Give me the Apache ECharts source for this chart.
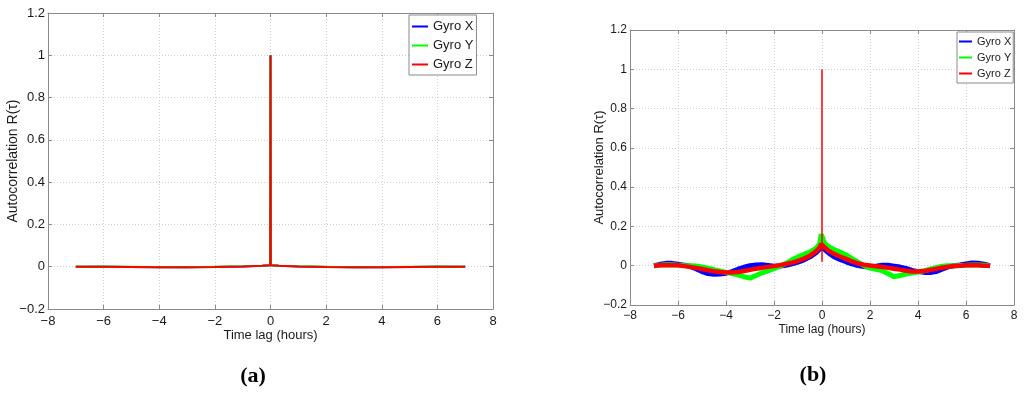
<!DOCTYPE html>
<html>
<head>
<meta charset="utf-8">
<script src="https://cdn.jsdelivr.net/npm/echarts@6/dist/echarts.min.js"></script>
<style>html,body{margin:0;padding:0;background:#fff}#c{width:1024px;height:393px}</style>
</head>
<body>
<div id="c"></div>
<script>
// ---------- DATA ----------
const seriesNames = ['Gyro X', 'Gyro Y', 'Gyro Z'];
const xTicks = [-8, 8, 2];          // min, max, step (hours)
const yTicks = [-0.2, 1.2, 0.2];    // min, max, step

// Panel (a)
const lagA = [-7,-6,-5,-4,-3,-2,-1,-0.3,-0.01,0,0.01,0.3,1,2,3,4,5,6,7];
const gxA  = [0,0,-0.001,-0.002,-0.002,-0.001,0.001,0.004,0.007,1,0.007,0.004,0.001,-0.001,-0.002,-0.002,-0.001,0,0];
const gyA  = [0,0.001,0,-0.001,-0.002,0,0.002,0.005,0.008,1,0.008,0.005,0.002,0,-0.002,-0.001,0,0.001,0];
const gzA  = [0,0,-0.001,-0.002,-0.002,-0.001,0.001,0.004,0.007,1,0.007,0.004,0.001,-0.001,-0.002,-0.002,-0.001,0,0];

// Panel (b)
const lagB = [-7,-6.75,-6.5,-6.25,-6,-5.75,-5.5,-5.25,-5,-4.75,-4.5,-4.25,-4,-3.75,-3.5,-3.25,-3,-2.75,-2.5,-2.25,-2,-1.75,-1.5,-1.25,-1,-0.75,-0.5,-0.25,-0.1,-0.03,
              0.03,0.1,0.25,0.5,0.75,1,1.25,1.5,1.75,2,2.25,2.5,2.75,3,3.25,3.5,3.75,4,4.25,4.5,4.75,5,5.25,5.5,5.75,6,6.25,6.5,6.75,7];
const gxB = [0,0.007,0.012,0.012,0.008,0.003,-0.003,-0.015,-0.03,-0.04,-0.044,-0.042,-0.038,-0.03,-0.018,-0.008,0,0.004,0.005,0.001,-0.003,-0.002,0.002,0.01,0.018,0.03,0.045,0.066,0.085,0.095,
             0.095,0.083,0.068,0.046,0.032,0.02,0.01,0.001,-0.004,-0.006,-0.002,0.003,0.003,-0.002,-0.007,-0.014,-0.024,-0.03,-0.034,-0.035,-0.03,-0.018,-0.006,0,0.004,0.009,0.014,0.013,0.008,0];
const gyB = [0,0.003,0.005,0.005,0.003,0.001,0,-0.001,-0.006,-0.013,-0.02,-0.027,-0.034,-0.04,-0.047,-0.056,-0.063,-0.05,-0.036,-0.026,-0.015,-0.002,0.012,0.03,0.045,0.058,0.07,0.088,0.11,0.16,
             0.16,0.115,0.1,0.082,0.07,0.055,0.036,0.018,0,-0.012,-0.018,-0.025,-0.04,-0.056,-0.05,-0.043,-0.037,-0.032,-0.026,-0.018,-0.01,-0.003,0,0,0.001,0.002,0.004,0.004,0.002,0];
const gzB = [0,0.002,0.003,0.003,0.002,-0.002,-0.006,-0.011,-0.017,-0.023,-0.028,-0.032,-0.034,-0.035,-0.032,-0.027,-0.021,-0.015,-0.01,-0.006,-0.002,0.003,0.009,0.016,0.025,0.036,0.051,0.073,0.093,0.11,
             0.11,0.095,0.078,0.06,0.047,0.035,0.022,0.012,0.005,0.001,-0.003,-0.006,-0.01,-0.015,-0.02,-0.026,-0.029,-0.03,-0.027,-0.022,-0.016,-0.01,-0.005,-0.002,0,0.002,0.003,0.002,0,0];
const spikeLagB = [0, 0];
const spikeZB   = [0.02, 1.0];

// ---------- CHART ----------
const FONT = "'Liberation Sans',Arial,sans-serif";
const COLORS = ['#0000ff', '#00ff00', '#ff0000'];
const zip = (xs, ys) => xs.map((x, i) => [x, ys[i]]);
const fmt = v => String(Math.round(v * 10) / 10).replace('-', '\u2212');
const FRAME = '#8a8a8a';

function xAxes(g, fs, gap, nameGap) {
  const base = {gridIndex: g, type: 'value', min: xTicks[0], max: xTicks[1], interval: xTicks[2]};
  return [
    Object.assign({}, base, {
      position: 'bottom', name: 'Time lag (hours)', nameLocation: 'middle', nameGap: nameGap, nameMoveOverlap: false,
      nameTextStyle: {fontFamily: FONT, fontSize: fs, color: '#1a1a1a'},
      axisLine: {show: true, onZero: false, lineStyle: {color: FRAME}},
      axisTick: {show: true, inside: true, length: 4, lineStyle: {color: FRAME}},
      axisLabel: {show: true, margin: gap, fontFamily: FONT, fontSize: fs, color: '#1a1a1a', formatter: fmt, showMinLabel: true, showMaxLabel: true},
      splitLine: {show: true, lineStyle: {color: '#cfcfcf', type: [1, 2]}}
    }),
    Object.assign({}, base, {
      position: 'top',
      axisLine: {show: true, onZero: false, lineStyle: {color: FRAME}},
      axisTick: {show: true, inside: true, length: 4, lineStyle: {color: FRAME}},
      axisLabel: {show: false}, splitLine: {show: false}
    })
  ];
}
function yAxes(g, fs, gap, nameGap, nfs) {
  const base = {gridIndex: g, type: 'value', min: yTicks[0], max: yTicks[1], interval: yTicks[2]};
  return [
    Object.assign({}, base, {
      position: 'left', name: 'Autocorrelation R(\u03c4)', nameLocation: 'middle', nameGap: nameGap, nameMoveOverlap: false,
      nameTextStyle: {fontFamily: FONT, fontSize: nfs, color: '#1a1a1a'},
      axisLine: {show: true, onZero: false, lineStyle: {color: FRAME}},
      axisTick: {show: true, inside: true, length: 4, lineStyle: {color: FRAME}},
      axisLabel: {show: true, margin: gap, fontFamily: FONT, fontSize: fs, color: '#1a1a1a', formatter: fmt, showMinLabel: true, showMaxLabel: true},
      splitLine: {show: true, lineStyle: {color: '#cfcfcf', type: [1, 2]}}
    }),
    Object.assign({}, base, {
      position: 'right',
      axisLine: {show: true, onZero: false, lineStyle: {color: FRAME}},
      axisTick: {show: true, inside: true, length: 4, lineStyle: {color: FRAME}},
      axisLabel: {show: false}, splitLine: {show: false}
    })
  ];
}
function line(name, color, data, xi, yi, w) {
  return {type: 'line', name: name, data: data, xAxisIndex: xi, yAxisIndex: yi,
    showSymbol: false, symbol: 'none', smooth: false, animation: false,
    lineStyle: {color: color, width: w}, itemStyle: {color: color}};
}

const chart = echarts.init(document.getElementById('c'), null, {renderer: 'canvas'});
const option = {
  animation: false,
  backgroundColor: '#ffffff',
  grid: [
    {left: 48, top: 13, width: 445, height: 296, outerBoundsMode: 'none', containLabel: false},
    {left: 630, top: 30, width: 384, height: 275, outerBoundsMode: 'none', containLabel: false}
  ],
  xAxis: [].concat(xAxes(0, 13, 6, 20), xAxes(1, 12, 5, 19)),
  yAxis: [].concat(yAxes(0, 13, 3, 28, 14), yAxes(1, 12, 3, 24, 13)),
  legend: [
    {data: seriesNames, orient: 'vertical', left: 409, top: 15, padding: [4, 3, 3, 3], itemGap: 4,
     itemWidth: 16, itemHeight: 2, icon: 'rect', borderColor: FRAME, borderWidth: 1, backgroundColor: '#fff',
     textStyle: {fontFamily: FONT, fontSize: 13, lineHeight: 15, color: '#1a1a1a'}},
    {data: seriesNames, orient: 'vertical', left: 957, top: 32, padding: [3, 2, 3, 2], itemGap: 3,
     itemWidth: 13, itemHeight: 2, icon: 'rect', borderColor: FRAME, borderWidth: 1, backgroundColor: '#fff',
     textStyle: {fontFamily: FONT, fontSize: 11, lineHeight: 13, color: '#1a1a1a'}}
  ],
  title: [
    {text: '{p|(}{b|a}{p|)}', left: 248, top: 360, textAlign: 'center',
     textStyle: {rich: {p: {fontFamily: 'Liberation Serif', fontSize: 22, color: '#000'}, b: {fontFamily: 'Liberation Serif', fontWeight: 'bold', fontSize: 22, color: '#000'}}}},
    {text: '{p|(}{b|b}{p|)}', left: 808, top: 359, textAlign: 'center',
     textStyle: {rich: {p: {fontFamily: 'Liberation Serif', fontSize: 22, color: '#000'}, b: {fontFamily: 'Liberation Serif', fontWeight: 'bold', fontSize: 22, color: '#000'}}}}
  ],
  series: [
    line('Gyro X', COLORS[0], zip(lagA, gxA), 0, 0, 2),
    line('Gyro Y', COLORS[1], zip(lagA, gyA), 0, 0, 2),
    line('Gyro Z', COLORS[2], zip(lagA, gzA), 0, 0, 2),
    line('Gyro X', COLORS[0], zip(lagB, gxB), 2, 2, 5),
    line('Gyro Y', COLORS[1], zip(lagB, gyB), 2, 2, 5),
    line('Gyro Z', COLORS[2], zip(lagB, gzB), 2, 2, 4.5),
    line('Gyro Z', COLORS[2], zip(spikeLagB, spikeZB), 2, 2, 1.5)
  ]
};
chart.setOption(option);
</script>
</body>
</html>
